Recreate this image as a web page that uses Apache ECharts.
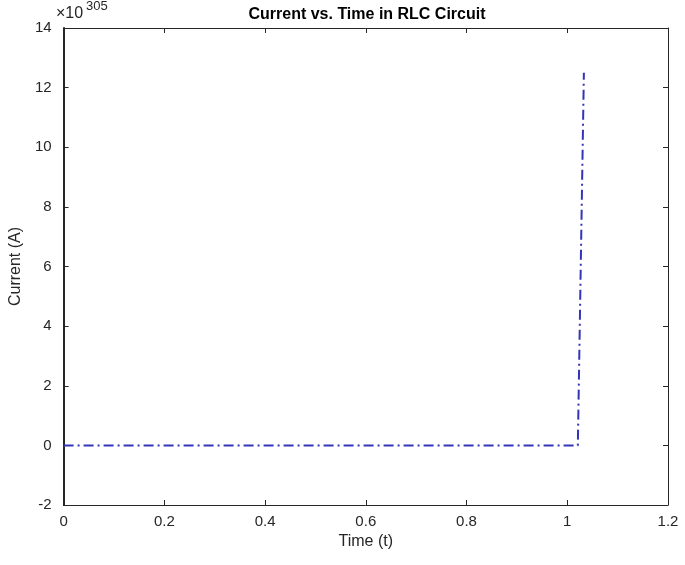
<!DOCTYPE html>
<html><head><meta charset="utf-8">
<script src="https://cdn.jsdelivr.net/npm/echarts@6/dist/echarts.min.js"></script>
<style>html,body{margin:0;padding:0;background:#fff}#c{width:685px;height:565px}</style>
</head><body><div id="c"></div>
<script>
const timeValues = [0, 0.2, 0.4, 0.6, 0.8, 1.0, 1.021, 1.033];
const currentValues = [0, 0, 0, 0, 0, 0, 0, 12.5]; // units of 1e305 A
const exponentLabel = '305';
const chart = echarts.init(document.getElementById('c'));
const F = 'Liberation Sans, Arial, sans-serif';
const lineC = '#262626';
const axisCommon = {
  axisLine: {show: true, onZero: false, lineStyle: {color: lineC, width: 1}},
  axisTick: {show: true, inside: true, length: 5, lineStyle: {color: lineC}},
  splitLine: {show: false}
};
chart.setOption({
  animation: false,
  backgroundColor: '#fff',
  title: {text: 'Current vs. Time in RLC Circuit', left: 362, top: 2, textAlign: 'center',
    textStyle: {fontFamily: F, fontSize: 16, fontWeight: 'bold', color: '#000'}},
  graphic: [{type: 'text', left: 56, top: 6, style: {text: '×10', fontFamily: F, fontSize: 16, fill: '#262626'}},
            {type: 'text', left: 86, top: 0, style: {text: exponentLabel, fontFamily: F, fontSize: 13, fill: '#262626'}}],
  grid: {left: 52, right: 17, top: 28, bottom: 60, containLabel: false},
  xAxis: [
    Object.assign({type: 'value', min: 0, max: 1.2, interval: 0.2, position: 'bottom',
      name: 'Time (t)', nameLocation: 'middle', nameGap: 28,
      nameTextStyle: {fontFamily: F, fontSize: 16, color: '#262626'},
      axisLabel: {fontFamily: F, fontSize: 15, color: '#262626', margin: 9,
        formatter: v => +v.toFixed(1) + ''}}, axisCommon),
    Object.assign({type: 'value', min: 0, max: 1.2, interval: 0.2, position: 'top', axisLabel: {show: false}}, axisCommon)
  ],
  yAxis: [
    Object.assign({type: 'value', min: -2, max: 14, interval: 2, position: 'left',
      name: 'Current (A)', nameLocation: 'middle', nameGap: 36,
      nameTextStyle: {fontFamily: F, fontSize: 16, color: '#262626'},
      axisLabel: {fontFamily: F, fontSize: 15, color: '#262626', margin: 12}}, axisCommon,
      {axisLine: {show: true, onZero: false, lineStyle: {color: lineC, width: 2}}}),
    Object.assign({type: 'value', min: -2, max: 14, interval: 2, position: 'right', axisLabel: {show: false}}, axisCommon)
  ],
  series: [{type: 'line', xAxisIndex: 0, yAxisIndex: 0, symbol: 'none',
    data: timeValues.map((t, i) => [t, currentValues[i]]),
    lineStyle: {color: '#3434b8', width: 2, type: [10, 4, 2, 4]}}]
});
</script></body></html>
